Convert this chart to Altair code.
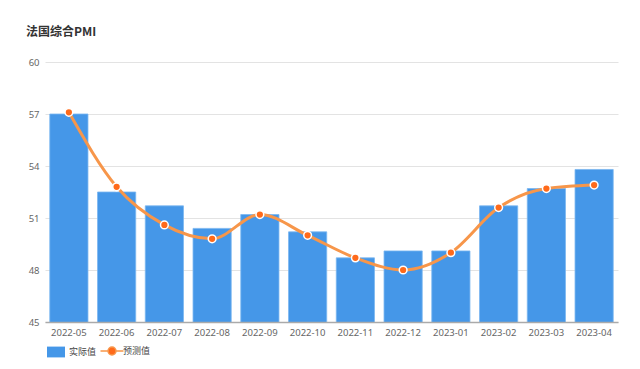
import altair as alt
import pandas as pd

months = ["2022-05", "2022-06", "2022-07", "2022-08", "2022-09", "2022-10",
          "2022-11", "2022-12", "2023-01", "2023-02", "2023-03", "2023-04"]
actual = [57.0, 52.5, 51.7, 50.4, 51.2, 50.2, 48.7, 49.1, 49.1, 51.7, 52.7, 53.8]
forecast = [57.1, 52.8, 50.6, 49.8, 51.2, 50.0, 48.7, 48.0, 49.0, 51.6, 52.7, 52.9]
y_ticks = [45, 48, 51, 54, 57, 60]

df = pd.DataFrame({"month": months, "actual": actual, "forecast": forecast})

x_enc = alt.X("month:N", sort=months, title=None,
              scale=alt.Scale(paddingInner=0.2, paddingOuter=0.1),
              axis=alt.Axis(labelAngle=0, labelColor="#666666", labelFontSize=9.5,
                            labelFont="Noto Sans", domainColor="#aaaaaa", domainWidth=1.5,
                            ticks=False, labelPadding=5, zindex=1))
y_scale = alt.Scale(domain=[45, 60], nice=False, zero=False)

bars = alt.Chart(df).mark_bar(clip=True, stroke="#7ab6f0", strokeWidth=1, strokeOpacity=0.8).encode(
    x=x_enc,
    y=alt.Y("actual:Q", scale=y_scale, title=None,
            axis=alt.Axis(values=y_ticks, labelColor="#666666", labelFontSize=9.5,
                          labelFont="Noto Sans", domain=False, ticks=False,
                          gridColor="#e3e3e3", gridWidth=1.2, labelPadding=6)),
    fill=alt.Fill("s:N", scale=alt.Scale(domain=["实际值"], range=["#4597e8"]),
                  legend=alt.Legend(title=None, orient="none", legendX=2, legendY=281,
                                    symbolType="M-1,-0.6 L1,-0.6 L1,0.6 L-1,0.6 Z",
                                    symbolSize=324, symbolStrokeWidth=0,
                                    labelFontSize=9, labelFont="Noto Sans CJK SC",
                                    labelColor="#444444", labelOffset=4)),
).transform_calculate(s="'实际值'")

line = alt.Chart(df).mark_line(interpolate="monotone", strokeWidth=3, color="#f7964a").encode(
    x=alt.X("month:N", sort=months),
    y=alt.Y("forecast:Q", scale=y_scale),
    stroke=alt.Stroke("s:N", scale=alt.Scale(domain=["预测值"], range=["#f7964a"]),
                      legend=alt.Legend(title=None, orient="none", legendX=59, legendY=281,
                                        symbolType="M-1.6,0 L-0.55,0 A0.55,0.55 0 1,1 0.55,0 L1.6,0 M0.55,0 A0.55,0.55 0 1,1 -0.55,0",
                                        symbolSize=207, symbolStrokeWidth=1.5,
                                        symbolFillColor="#ff6a1a",
                                        labelFontSize=9, labelFont="Noto Sans CJK SC",
                                        labelColor="#444444", labelOffset=3)),
).transform_calculate(s="'预测值'")

points = alt.Chart(df).mark_point(filled=True, size=60, color="#ff6a1a",
                                  stroke="white", strokeWidth=1.5, opacity=1).encode(
    x=alt.X("month:N", sort=months),
    y=alt.Y("forecast:Q", scale=y_scale),
)

chart = alt.layer(bars, line, points).resolve_scale(fill="independent", stroke="independent").properties(
    width=573, height=260,
    autosize=alt.AutoSizeParams(type="none"),
    padding={"left": 37, "top": 54, "right": 14, "bottom": 39},
    title=alt.Title("法国综合PMI", anchor="start", frame="group", dx=-19, offset=18,
                    fontSize=12, font="Noto Sans CJK SC", fontWeight="bold", color="#333333"),
).configure_view(stroke=None)

chart.save("out.html", embed_options={"renderer": "svg", "actions": False})
